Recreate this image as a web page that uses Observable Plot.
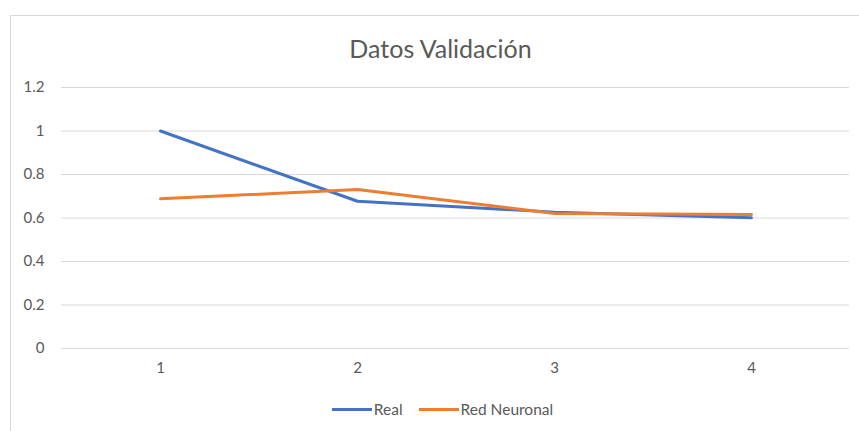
<!DOCTYPE html>
<html>
<head>
<meta charset="utf-8">
<script src="https://cdn.jsdelivr.net/npm/d3@7"></script>
<script src="https://cdn.jsdelivr.net/npm/@observablehq/plot@0.6"></script>
<style>
  html, body { margin: 0; padding: 0; background: #fff; }
  #wrap { position: relative; width: 859px; height: 431px; overflow: hidden; font-family: Lato, "Open Sans", sans-serif; }
  #frame { position: absolute; left: 10px; top: 15px; width: 870px; height: 440px; border: 1px solid #d9d9d9; box-sizing: border-box; }
  #title { position: relative; height: 70px; text-align: center; font-size: 25px; color: #595959; line-height: 28px; padding-top: 34px; box-sizing: border-box; padding-left: 22px; }
  #chart { position: relative; }
  #legend { position: relative; display: flex; justify-content: center; align-items: center; font-size: 15.5px; color: #595959; margin-top: 17px; height: 18px; padding-left: 26px; }
  .item { display: flex; align-items: center; margin: 0 8px; }
  .sw { width: 40px; height: 3px; margin-right: 2px; }
</style>
</head>
<body>
<div id="wrap">
  <div id="frame"></div>
  <div id="title">Datos Validación</div>
  <div id="chart"></div>
  <div id="legend"></div>
</div>
<script>
const categories = [1, 2, 3, 4];
const real = [1.0, 0.677, 0.627, 0.601];
const redNeuronal = [0.688, 0.731, 0.621, 0.616];
const yTicks = [0, 0.2, 0.4, 0.6, 0.8, 1, 1.2];
const seriesNames = ["Real", "Red Neuronal"];
const seriesColors = ["#4472C4", "#ED7D31"];

const data = [];
categories.forEach((c, i) => {
  data.push({x: c, y: real[i], s: seriesNames[0]});
  data.push({x: c, y: redNeuronal[i], s: seriesNames[1]});
});

const plot = Plot.plot({
  width: 859,
  height: 313,
  marginTop: 17,
  marginBottom: 35,
  marginLeft: 61,
  marginRight: 10,
  style: { fontFamily: "Lato, 'Open Sans', sans-serif", fontSize: "15px", color: "#595959", background: "transparent" },
  x: { type: "point", domain: categories, padding: 0.5, label: null },
  y: { domain: [0, 1.2], label: null },
  color: { domain: seriesNames, range: seriesColors },
  marks: [
    Plot.ruleY(yTicks, { stroke: "#d9d9d9", strokeWidth: 1 }),
    Plot.axisX(categories, { tickSize: 0, tickPadding: 14, fontSize: 15, fill: "#595959" }),
    Plot.axisY(yTicks, { tickSize: 0, tickPadding: 17, fontSize: 15, fill: "#595959", tickFormat: d => String(+d.toFixed(1)) }),
    Plot.line(data, { x: "x", y: "y", z: "s", stroke: "s", strokeWidth: 3, strokeLinecap: "round", strokeLinejoin: "round" })
  ]
});
document.getElementById("chart").appendChild(plot);

const legend = document.getElementById("legend");
seriesNames.forEach((n, i) => {
  const it = document.createElement("div");
  it.className = "item";
  const sw = document.createElement("div");
  sw.className = "sw";
  sw.style.background = seriesColors[i];
  const lb = document.createElement("span");
  lb.textContent = n;
  it.appendChild(sw);
  it.appendChild(lb);
  legend.appendChild(it);
});
</script>
</body>
</html>
